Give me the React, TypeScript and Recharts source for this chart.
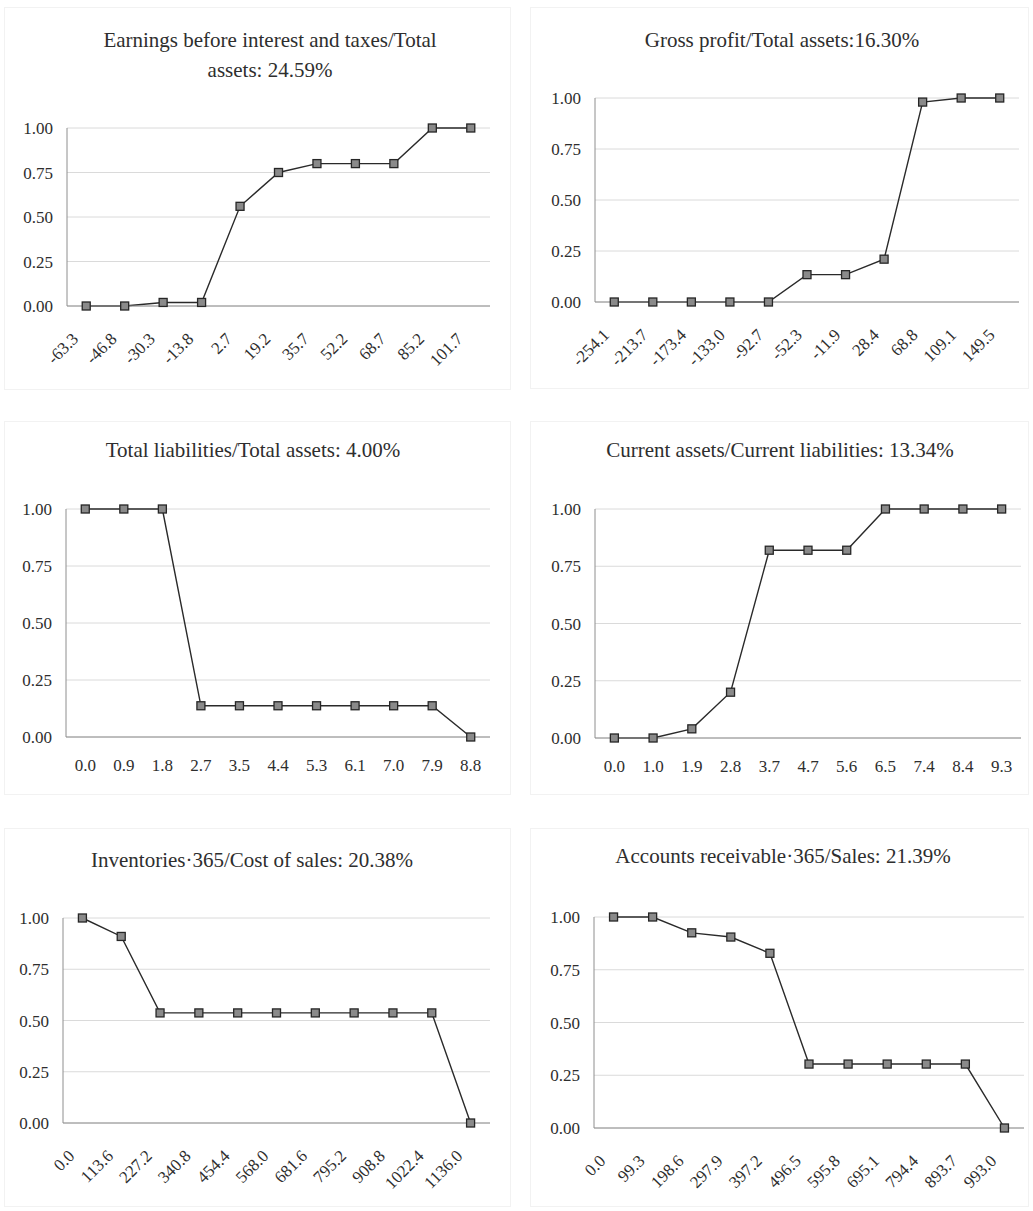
import React from 'react';
import { LineChart, Line, XAxis, YAxis, CartesianGrid } from 'recharts';

const FONT = '"Liberation Serif", "Times New Roman", serif';
const TEXT = '#2e2e2e';
const BORDER = '#8e8e8e';
const TICK_FS = 17;

// ---- data ----
const labelsEbit = ['-63.3', '-46.8', '-30.3', '-13.8', '2.7', '19.2', '35.7', '52.2', '68.7', '85.2', '101.7'];
const valuesEbit = [0, 0, 0.02, 0.02, 0.56, 0.75, 0.8, 0.8, 0.8, 1, 1];

const labelsGross = ['-254.1', '-213.7', '-173.4', '-133.0', '-92.7', '-52.3', '-11.9', '28.4', '68.8', '109.1', '149.5'];
const valuesGross = [0, 0, 0, 0, 0, 0.134, 0.134, 0.21, 0.98, 1, 1];

const labelsLiab = ['0.0', '0.9', '1.8', '2.7', '3.5', '4.4', '5.3', '6.1', '7.0', '7.9', '8.8'];
const valuesLiab = [1, 1, 1, 0.137, 0.137, 0.137, 0.137, 0.137, 0.137, 0.137, 0];

const labelsCurr = ['0.0', '1.0', '1.9', '2.8', '3.7', '4.7', '5.6', '6.5', '7.4', '8.4', '9.3'];
const valuesCurr = [0, 0, 0.04, 0.2, 0.82, 0.82, 0.82, 1, 1, 1, 1];

const labelsInv = ['0.0', '113.6', '227.2', '340.8', '454.4', '568.0', '681.6', '795.2', '908.8', '1022.4', '1136.0'];
const valuesInv = [1, 0.91, 0.537, 0.537, 0.537, 0.537, 0.537, 0.537, 0.537, 0.537, 0];

const labelsRec = ['0.0', '99.3', '198.6', '297.9', '397.2', '496.5', '595.8', '695.1', '794.4', '893.7', '993.0'];
const valuesRec = [1, 1, 0.925, 0.905, 0.828, 0.303, 0.303, 0.303, 0.303, 0.303, 0];

const yTicks = [0, 0.25, 0.5, 0.75, 1];

type Panel = {
  title: string[];
  titleCx: number;
  titleBase: number[];
  labels: string[];
  values: number[];
  box: { x: number; y: number; w: number; h: number };
  plot: { l: number; r: number; t: number; b: number };
  rotate: boolean;
  dx: number;
};

const panels: Panel[] = [
  {
    title: ['Earnings before interest and taxes/Total', 'assets: 24.59%'],
    titleCx: 270, titleBase: [47, 77],
    labels: labelsEbit, values: valuesEbit,
    box: { x: 0, y: 0, w: 516, h: 400 },
    plot: { l: 67, r: 490, t: 128, b: 306 },
    rotate: true, dx: -7,
  },
  {
    title: ['Gross profit/Total assets:16.30%'],
    titleCx: 782, titleBase: [47],
    labels: labelsGross, values: valuesGross,
    box: { x: 516, y: 0, w: 517, h: 400 },
    plot: { l: 595, r: 1019, t: 98, b: 302 },
    rotate: true, dx: -4,
  },
  {
    title: ['Total liabilities/Total assets: 4.00%'],
    titleCx: 253, titleBase: [457],
    labels: labelsLiab, values: valuesLiab,
    box: { x: 0, y: 400, w: 516, h: 400 },
    plot: { l: 66, r: 490, t: 509, b: 737 },
    rotate: false, dx: 0,
  },
  {
    title: ['Current assets/Current liabilities: 13.34%'],
    titleCx: 780, titleBase: [457],
    labels: labelsCurr, values: valuesCurr,
    box: { x: 516, y: 400, w: 517, h: 400 },
    plot: { l: 595, r: 1021, t: 509, b: 738 },
    rotate: false, dx: 0,
  },
  {
    title: ['Inventories\u00b7365/Cost of sales: 20.38%'],
    titleCx: 252, titleBase: [867],
    labels: labelsInv, values: valuesInv,
    box: { x: 0, y: 800, w: 516, h: 411 },
    plot: { l: 63, r: 490, t: 918, b: 1123 },
    rotate: true, dx: -7,
  },
  {
    title: ['Accounts receivable\u00b7365/Sales: 21.39%'],
    titleCx: 783, titleBase: [863],
    labels: labelsRec, values: valuesRec,
    box: { x: 516, y: 800, w: 517, h: 411 },
    plot: { l: 594, r: 1024, t: 917, b: 1128 },
    rotate: true, dx: -7,
  },
];

const outerBoxes = [
  { l: 4, t: 7, r: 511, b: 390 },
  { l: 530, t: 7, r: 1029, b: 389 },
  { l: 4, t: 421, r: 511, b: 795 },
  { l: 530, t: 421, r: 1029, b: 795 },
  { l: 4, t: 828, r: 511, b: 1207 },
  { l: 530, t: 828, r: 1029, b: 1207 },
];

const X_AXIS_H = 60;
const Y_AXIS_W = 60;

function ChartPanel({ p }: { p: Panel }) {
  const data = p.labels.map((label, i) => ({ i, label, v: p.values[i] }));
  const idx = p.labels.map((_, i) => i);
  const margin = {
    top: p.plot.t - p.box.y,
    right: p.box.x + p.box.w - p.plot.r,
    bottom: p.box.y + p.box.h - p.plot.b - X_AXIS_H,
    left: p.plot.l - p.box.x - Y_AXIS_W,
  };
  const rotTick = (props: any) => {
    const { x, y, payload } = props;
    return (
      <g transform={`translate(${x + p.dx},${y + 34})`}>
        <text
          x={0}
          y={0}
          textAnchor="end"
          transform="rotate(-45)"
          fontSize={TICK_FS}
          fontFamily={FONT}
          fill={TEXT}
        >
          {p.labels[payload.value]}
        </text>
      </g>
    );
  };
  return (
    <div style={{ position: 'absolute', left: p.box.x, top: p.box.y }}>
      <LineChart width={p.box.w} height={p.box.h} data={data} margin={margin}>
        <CartesianGrid vertical={false} stroke="#dadada" />
        <XAxis
          dataKey="i"
          type="number"
          domain={[-0.5, p.labels.length - 0.5]}
          ticks={idx}
          interval={0}
          allowDataOverflow
          height={X_AXIS_H}
          tickSize={0}
          tickMargin={p.rotate ? 0 : 22}
          tickLine={false}
          axisLine={{ stroke: BORDER }}
          tickFormatter={(v: number) => p.labels[v]}
          tick={p.rotate ? rotTick : { fontSize: TICK_FS, fontFamily: FONT, fill: TEXT }}
        />
        <XAxis
          xAxisId="top"
          orientation="top"
          dataKey="i"
          type="number"
          domain={[-0.5, p.labels.length - 0.5]}
          height={0}
          tick={false}
          tickLine={false}
          axisLine={{ stroke: BORDER }}
        />
        <YAxis
          type="number"
          domain={[0, 1]}
          ticks={yTicks}
          interval={0}
          width={Y_AXIS_W}
          tickSize={0}
          tickMargin={14}
          tickLine={false}
          axisLine={{ stroke: BORDER }}
          tickFormatter={(v: number) => v.toFixed(2)}
          tick={{ fontSize: TICK_FS, fontFamily: FONT, fill: TEXT }}
        />
        <YAxis
          yAxisId="right"
          orientation="right"
          type="number"
          domain={[0, 1]}
          width={0}
          tick={false}
          tickLine={false}
          axisLine={{ stroke: BORDER }}
        />
        <Line
          dataKey="v"
          stroke="#2a2a2a"
          strokeWidth={1.4}
          isAnimationActive={false}
          dot={(d: any) => (
            <rect
              key={`dot-${d.index}`}
              x={d.cx - 4}
              y={d.cy - 4}
              width={8}
              height={8}
              fill="#8a8a8a"
              stroke="#262626"
              strokeWidth={1.3}
            />
          )}
          activeDot={false}
        />
      </LineChart>
    </div>
  );
}

export default function App() {
  return (
    <div
      style={{
        position: 'absolute',
        left: 0,
        top: 0,
        width: 1033,
        height: 1211,
        background: '#ffffff',
        overflow: 'hidden',
        fontFamily: FONT,
      }}
    >
      {outerBoxes.map((b, k) => (
        <div
          key={`box-${k}`}
          style={{
            position: 'absolute',
            left: b.l,
            top: b.t,
            width: b.r - b.l,
            height: b.b - b.t,
            border: '1px solid #f2f2f2',
            boxSizing: 'border-box',
          }}
        />
      ))}
      {panels.map((p, k) => (
        <ChartPanel key={`panel-${k}`} p={p} />
      ))}
      {panels.map((p, k) =>
        p.title.map((line, j) => (
          <div
            key={`t-${k}-${j}`}
            style={{
              position: 'absolute',
              left: p.titleCx - 260,
              width: 520,
              top: p.titleBase[j] - 19,
              textAlign: 'center',
              fontSize: 21,
              lineHeight: '24px',
              fontFamily: FONT,
              color: TEXT,
              whiteSpace: 'nowrap',
            }}
          >
            {line}
          </div>
        ))
      )}
    </div>
  );
}
